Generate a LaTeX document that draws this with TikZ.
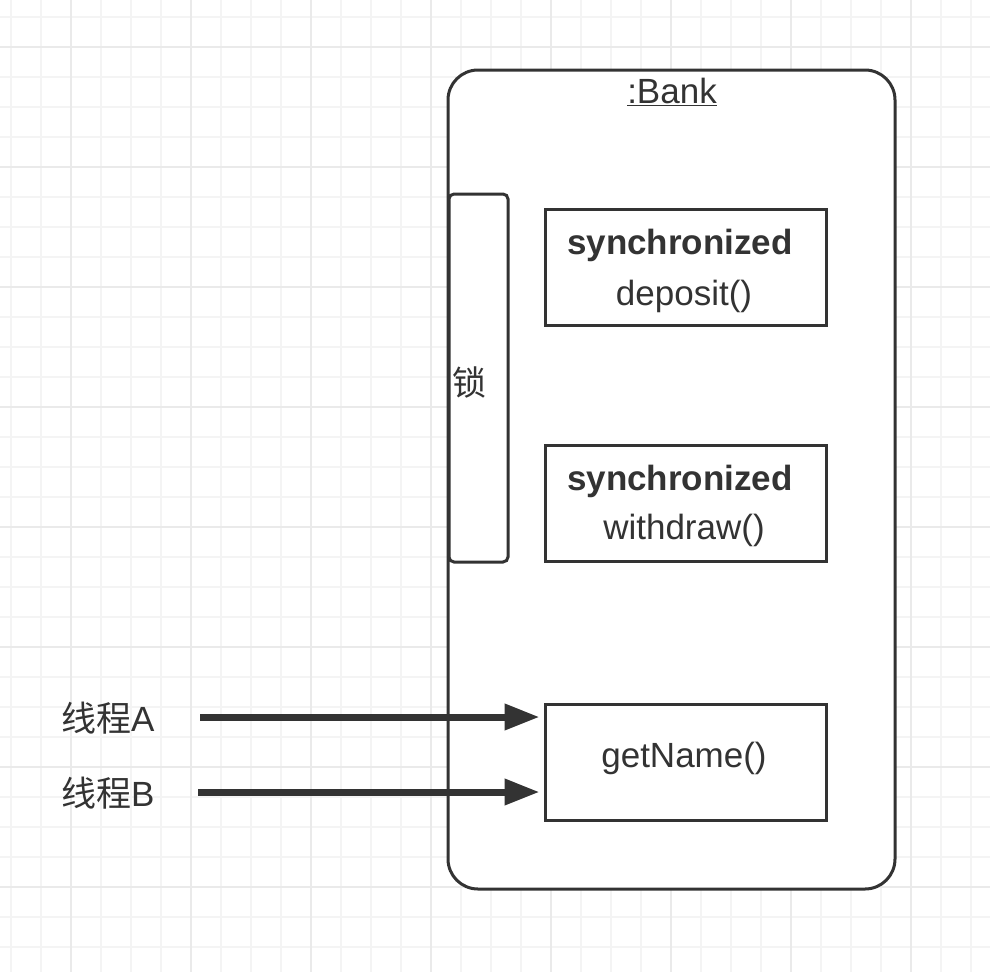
\documentclass[tikz,border=0pt]{standalone}
\usepackage{fontspec}
\setmainfont{Liberation Sans}
\newfontfamily\cjk{Noto Sans CJK SC}
\usetikzlibrary{arrows.meta}
\definecolor{ink}{HTML}{333333}
\definecolor{gridminor}{HTML}{F4F4F4}
\definecolor{gridmajor}{HTML}{EAEAEA}
\begin{document}
\begin{tikzpicture}[x=1pt,y=-1pt,
  txt/.style={text=ink,font=\fontsize{35}{42}\selectfont,inner sep=0pt},
  methodbox/.style={draw=ink,line width=3pt,minimum width=281pt,minimum height=116pt,inner sep=0pt,fill=white},
  flow/.style={draw=ink,line width=7pt,-{Triangle[length=35pt,width=25pt]},shorten >=4pt}
]
\fill[white] (0,0) rectangle (990,972);
\useasboundingbox (0,0) rectangle (990,972);
% grid
\foreach \i in {0,...,32}{
  \pgfmathsetmacro{\gx}{11+30*\i}
  \draw[gridminor,line width=1.5pt] (\gx,0) -- (\gx,972);
}
\foreach \i in {0,...,32}{
  \pgfmathsetmacro{\gy}{17+30*\i}
  \draw[gridminor,line width=1.5pt] (0,\gy) -- (990,\gy);
}
\foreach \i in {0,...,8}{
  \pgfmathsetmacro{\gx}{71+120*\i}
  \draw[gridmajor,line width=1.5pt] (\gx,0) -- (\gx,972);
  \pgfmathsetmacro{\gy}{47+120*\i}
  \draw[gridmajor,line width=1.5pt] (0,\gy) -- (990,\gy);
}
% Bank object
\node[draw=ink,line width=3pt,rounded corners=30pt,fill=white,minimum width=447pt,minimum height=819pt,inner sep=0pt] (bank) at (671.5,479.5) {};
\node[txt] (title) at (672,92) {\underline{:Bank}};
% lock
\node[draw=ink,line width=3pt,rounded corners=5pt,fill=white,minimum width=59pt,minimum height=368pt,inner sep=0pt] (lock) at (478.5,378) {};
\node[txt,font=\cjk\fontsize{34}{40}\selectfont] (locktext) at (469,382) {锁};
% methods
\node[methodbox] (deposit) at (685.5,267.5) {};
\node[txt] at (680,245) {\bfseries synchronized};
\node[txt] at (684,296) {deposit()};
\node[methodbox] (withdraw) at (685.5,503.5) {};
\node[txt] at (680,481) {\bfseries synchronized};
\node[txt] at (684,530) {withdraw()};
\node[methodbox] (getname) at (685.5,762) {};
\node[txt] at (684,758) {getName()};
% threads
\node[txt,anchor=west] (ta) at (61,718) {{\cjk 线程}A};
\node[txt,anchor=west] (tb) at (61,793) {{\cjk 线程}B};
\coordinate (sa) at (200,717);
\coordinate (sb) at (198,792);
\draw[flow] (sa) -- (sa -| getname.west);
\draw[flow] (sb) -- (sb -| getname.west);
\end{tikzpicture}
\end{document}
